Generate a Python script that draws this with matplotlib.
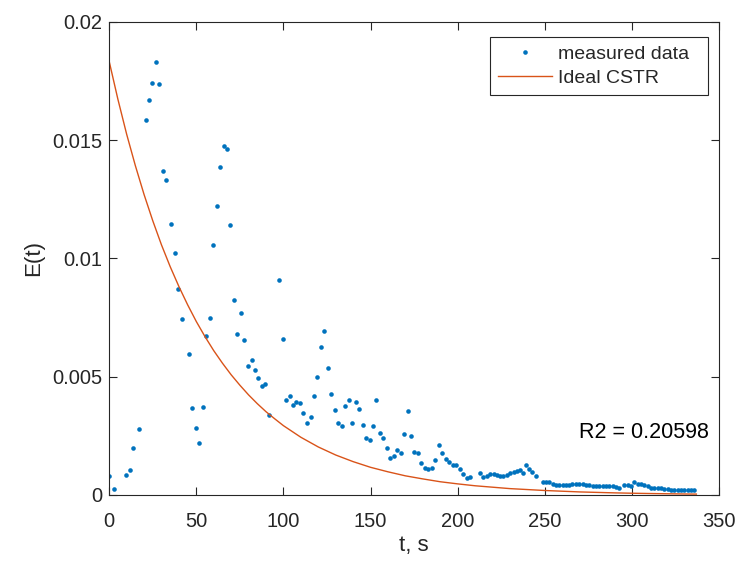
import matplotlib
matplotlib.use("Agg")
import matplotlib.pyplot as plt

plt.rcParams['font.family'] = ['Liberation Sans', 'DejaVu Sans']

# measured data (t in s, E(t))
t_meas = [0.0, 2.7, 9.8, 11.8, 13.8, 16.9, 21.0, 22.9, 24.8, 26.9, 28.8, 30.7,
          32.8, 35.7, 37.8, 39.7, 41.7, 45.7, 47.7, 49.7, 51.8, 53.7, 55.4, 57.7,
          59.6, 61.8, 63.7, 65.8, 67.7, 69.6, 71.5, 73.6, 75.6, 77.6, 79.6, 81.7,
          83.6, 85.5, 87.6, 89.5, 91.6, 97.6, 99.7, 101.6, 103.5, 105.4, 107.5,
          109.5, 111.5, 113.5, 115.6, 117.5, 119.4, 121.5, 123.4, 125.6, 127.5,
          129.6, 131.5, 133.4, 135.5, 137.4, 139.5, 141.4, 143.6, 145.5, 147.4,
          149.5, 151.4, 153.3, 155.4, 157.3, 159.5, 161.4, 163.3, 165.4, 167.3,
          169.2, 171.3, 173.3, 175.2, 177.3, 179.2, 181.1, 183.2, 185.3, 187.2,
          189.4, 191.3, 193.1, 195.3, 197.2, 199.3, 201.2, 203.1, 205.2, 207.2,
          212.9, 214.8, 216.8, 218.7, 220.6, 222.5, 224.4, 226.3, 228.3, 230.2,
          232.1, 234.0, 235.9, 237.5, 239.2, 241.0, 242.9, 244.8, 248.7, 250.6,
          252.6, 254.5, 256.4, 258.3, 260.2, 262.1, 264.0, 265.9, 267.9, 269.8,
          271.7, 273.6, 275.5, 277.4, 279.4, 281.3, 283.2, 285.1, 287.0, 288.9,
          290.9, 292.8, 295.2, 297.5, 299.5, 301.4, 303.3, 305.2, 307.1, 309.0,
          311.0, 312.9, 314.8, 316.7, 318.7, 320.5, 322.4, 324.3, 326.2, 328.2,
          330.1, 332.0, 333.9, 335.8]
E_meas = [0.00080, 0.00024, 0.00086, 0.00106, 0.00200, 0.00278, 0.01586, 0.01669,
          0.01740, 0.01831, 0.01737, 0.01368, 0.01330, 0.01147, 0.01024, 0.00872,
          0.00742, 0.00596, 0.00369, 0.00282, 0.00221, 0.00373, 0.00672, 0.00750,
          0.01055, 0.01220, 0.01386, 0.01476, 0.01462, 0.01140, 0.00823, 0.00679,
          0.00770, 0.00655, 0.00547, 0.00569, 0.00527, 0.00496, 0.00461, 0.00468,
          0.00337, 0.00907, 0.00658, 0.00400, 0.00417, 0.00382, 0.00393, 0.00390,
          0.00348, 0.00304, 0.00330, 0.00420, 0.00499, 0.00627, 0.00692, 0.00538,
          0.00426, 0.00359, 0.00304, 0.00290, 0.00376, 0.00403, 0.00306, 0.00394,
          0.00362, 0.00296, 0.00240, 0.00234, 0.00292, 0.00403, 0.00263, 0.00242,
          0.00200, 0.00155, 0.00166, 0.00189, 0.00176, 0.00259, 0.00355, 0.00251,
          0.00183, 0.00178, 0.00137, 0.00113, 0.00111, 0.00113, 0.00149, 0.00211,
          0.00179, 0.00151, 0.00138, 0.00126, 0.00126, 0.00111, 0.00087, 0.00071,
          0.00076, 0.00092, 0.00077, 0.00080, 0.00089, 0.00090, 0.00083, 0.00082,
          0.00082, 0.00085, 0.00092, 0.00097, 0.00101, 0.00106, 0.00094, 0.00125,
          0.00109, 0.00096, 0.00080, 0.00054, 0.00054, 0.00054, 0.00045, 0.00042,
          0.00041, 0.00041, 0.00041, 0.00041, 0.00046, 0.00046, 0.00046, 0.00046,
          0.00044, 0.00042, 0.00039, 0.00039, 0.00039, 0.00039, 0.00038, 0.00038,
          0.00036, 0.00035, 0.00031, 0.00042, 0.00041, 0.00038, 0.00055, 0.00045,
          0.00045, 0.00044, 0.00038, 0.00028, 0.00028, 0.00028, 0.00028, 0.00027,
          0.00025, 0.00022, 0.00022, 0.00022, 0.00022, 0.00022, 0.00022, 0.00022,
          0.00022]

# ideal CSTR curve
t_cstr = [0, 5, 10, 15, 20, 25, 30, 35, 40, 45, 50, 55, 60, 65, 70, 75, 80, 85,
          90, 95, 100, 110, 120, 130, 140, 150, 160, 170, 180, 190, 200, 210, 220,
          230, 240, 250, 260, 270, 280, 290, 300, 310, 320, 330, 337]
E_cstr = [0.01832, 0.01672, 0.01525, 0.01392, 0.01270, 0.01159, 0.01057, 0.00965,
          0.00881, 0.00804, 0.00733, 0.00669, 0.00610, 0.00557, 0.00508, 0.00464,
          0.00423, 0.00386, 0.00352, 0.00322, 0.00293, 0.00244, 0.00203, 0.00169,
          0.00141, 0.00117, 0.00098, 0.00081, 0.00068, 0.00056, 0.00047, 0.00039,
          0.00033, 0.00027, 0.00023, 0.00019, 0.00016, 0.00013, 0.00011, 0.00009,
          0.000075, 0.000063, 0.000052, 0.000043, 0.000038]

x_ticks = [0, 50, 100, 150, 200, 250, 300, 350]
y_ticks = [0, 0.005, 0.01, 0.015, 0.02]
y_tick_labels = ['0', '0.005', '0.01', '0.015', '0.02']
r2_text = 'R2 = 0.20598'

blue = '#0072BD'
orange = '#D95319'
axc = '#262626'

fig = plt.figure(figsize=(7.35, 5.61), dpi=100)
ax = fig.add_axes([109.2 / 735, 66 / 561, (719 - 109.2) / 735, (495 - 21.7) / 561])

ax.plot(t_meas, E_meas, linestyle='none', marker='o', ms=3.3, mew=0,
        color=blue, label='measured data  ')
ax.plot(t_cstr, E_cstr, color=orange, lw=1.0, label='Ideal CSTR')

ax.set_xlim(0, 350)
ax.set_ylim(0, 0.02)
ax.set_xticks(x_ticks)
ax.set_xticklabels([str(v) for v in x_ticks])
ax.set_yticks(y_ticks)
ax.set_yticklabels(y_tick_labels)

for s in ax.spines.values():
    s.set_color(axc)
    s.set_linewidth(0.8)
ax.tick_params(direction='in', length=6, width=0.8, color=axc, labelcolor=axc,
               labelsize=14.5, top=True, right=True)
ax.tick_params(axis='x', pad=12)
ax.tick_params(axis='y', pad=5)

ax.set_xlabel('t, s', fontsize=16, color=axc, labelpad=3)
ax.set_ylabel('E(t)', fontsize=16, color=axc, labelpad=6)

ax.text(269.5, 0.00262, r2_text, fontsize=15.5, color='black',
        ha='left', va='center')

leg = ax.legend(loc='upper right', bbox_to_anchor=(0.982, 0.967),
                borderaxespad=0, fontsize=14, handlelength=2.8,
                handletextpad=0.3, borderpad=0.42, labelspacing=0.32,
                numpoints=1, fancybox=False, framealpha=1, markerscale=1.0)
leg.get_frame().set_edgecolor(axc)
leg.get_frame().set_linewidth(0.8)
for txt in leg.get_texts():
    txt.set_color(axc)

fig.savefig('out.png', dpi=100)
